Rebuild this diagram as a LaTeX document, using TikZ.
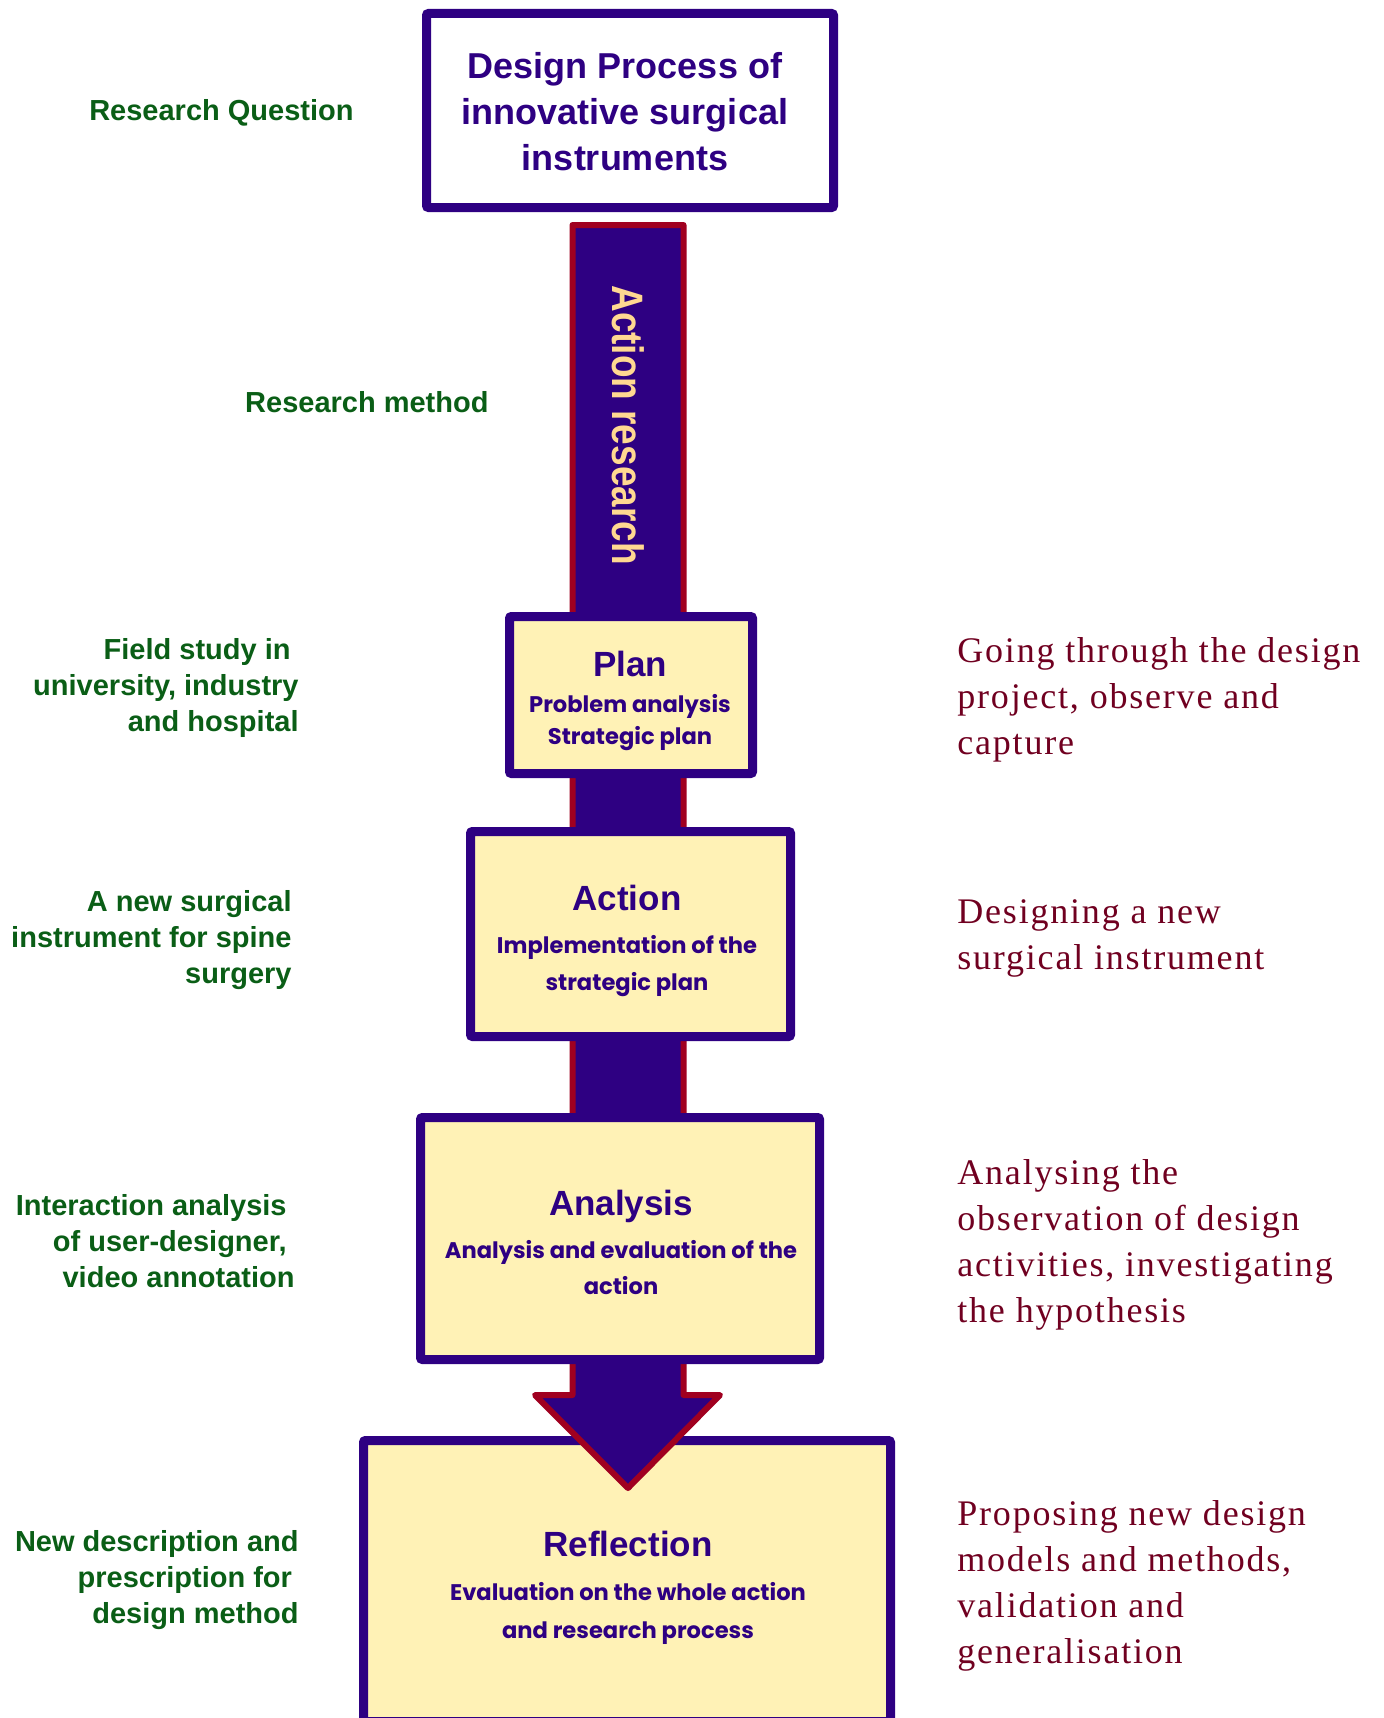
\documentclass[tikz,border=0pt]{standalone}
\usepackage{fontspec}
\usepackage{graphicx}
\setmainfont{Liberation Sans}
\newfontfamily\serifR[LetterSpace=5]{Liberation Serif}
\newfontfamily\popf{Poppins}
\definecolor{boxpurple}{RGB}{46,0,130}
\definecolor{boxyellow}{RGB}{255,242,182}
\definecolor{arrowred}{RGB}{160,0,32}
\definecolor{labgreen}{RGB}{10,94,22}
\definecolor{notered}{RGB}{112,0,32}
\definecolor{arlabel}{RGB}{255,216,145}
\newcommand{\trsp}{\makebox[4pt]{}}
\newcommand{\boxttl}[1]{{\rmfamily\fontsize{17.5}{19}\selectfont\bfseries #1}}
\begin{document}
\begin{tikzpicture}[x=0.5pt,y=-0.5pt,
  box/.style={draw=boxpurple, fill=boxyellow, line width=4.5pt, rounded corners=1pt,
    inner sep=0pt},
  titlebox/.style={box, fill=white},
  boxtext/.style={align=center, inner sep=0pt, text=boxpurple},
  lefttxt/.style={anchor=east, align=right, inner sep=0pt, text=labgreen,
    font=\fontsize{14.5}{18}\selectfont\bfseries},
  righttxt/.style={anchor=west, align=left, inner sep=0pt, text=notered,
    font=\fontsize{18}{23}\selectfont\serifR},
]
\useasboundingbox (0,0) rectangle (1383,1718);

% Reflection box (below the arrow head)
\node[box, minimum width=263.5pt, minimum height=140.5pt] (refl) at (627,1581) {};

% block arrow
\coordinate (atl) at (572.5,225);
\coordinate (atr) at (683.5,225);
\coordinate (asr) at (683.5,1395);
\coordinate (ahr) at (720,1395);
\coordinate (atip) at (628,1488);
\coordinate (ahl) at (535,1395);
\coordinate (asl) at (572.5,1395);
\draw[line width=3pt, draw=arrowred, fill=boxpurple, line join=round]
  (atl) -- (atr) -- (asr) -- (ahr) -- (atip) -- (ahl) -- (asl) -- cycle;
\node[rotate=-90, inner sep=0pt, text=arlabel, font=\fontsize{22}{24}\selectfont\bfseries]
  (arlab) at (628,425) {\scalebox{0.84}[1]{Action research}};

% title box
\node[titlebox, minimum width=203.5pt, minimum height=97pt] (top) at (630,110.5) {};
\node[boxtext, font=\fontsize{18}{23}\selectfont\bfseries] (toptext) at (625,112)
  {Design Process of\\ innovative surgical\\ instruments};

% step boxes
\node[box, minimum width=121.5pt, minimum height=78.5pt] (plan) at (631,695) {};
\node[boxtext, font=\popf\bfseries\fontsize{11.3}{15.75}\selectfont] (plantext) at (630,701)
  {\boxttl{Plan}\\[2.2pt] Problem analysis\\ Strategic plan};

\node[box, minimum width=160pt, minimum height=102.5pt] (act) at (630.5,934) {};
\node[boxtext, font=\popf\bfseries\fontsize{11.3}{18.5}\selectfont] (acttext) at (627,941)
  {\boxttl{Action}\\[3.2pt] Implementation of the\\ strategic plan};

\node[box, minimum width=199.5pt, minimum height=121pt] (ana) at (620,1238.5) {};
\node[boxtext, font=\popf\bfseries\fontsize{11.3}{18.25}\selectfont] (anatext) at (621,1242.5)
  {\boxttl{Analysis}\\[3.2pt] Analysis and evaluation of the\\ action};

\node[boxtext, font=\popf\bfseries\fontsize{11.3}{18.75}\selectfont] (refltext) at (628,1588)
  {\boxttl{Reflection}\\[3.2pt] Evaluation on the whole action\\ and research process};

% left labels
\node[lefttxt] (rq) at (354,112.5) {Research Question};
\node[lefttxt] (rm) at (489,402) {Research method};
\node[lefttxt] (fs) at (299,687.5) {Field study in\trsp\\ university, industry\\ and hospital};
\node[lefttxt] (ns) at (292,940.5) {A new surgical\\ instrument for spine\\ surgery};
\node[lefttxt] (ia) at (295,1241.5) {Interaction analysis\trsp\\ of user-designer,\trsp\\ video annotation};
\node[lefttxt] (nd) at (299,1580.5) {New description and\\ prescription for\makebox[3.3pt]{}\\ design method};

% right notes
\node[righttxt] (r1) at (957,699.5) {Going through the design\\ project, observe and\\ capture};
\node[righttxt] (r2) at (957,938.5) {Designing a new\\ surgical instrument};
\node[righttxt] (r3) at (957,1244.5) {Analysing the\\ observation of design\\ activities, investigating\\ the hypothesis};
\node[righttxt] (r4) at (957,1585.5) {Proposing new design\\ models and methods,\\ validation and\\ generalisation};
\end{tikzpicture}
\end{document}
